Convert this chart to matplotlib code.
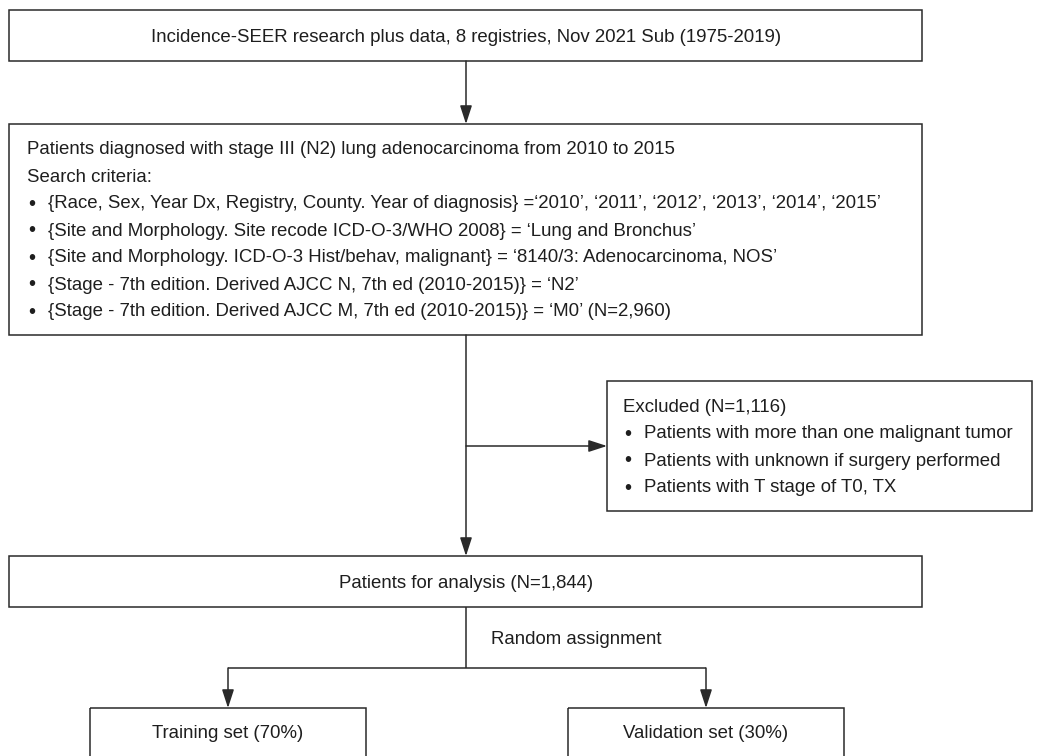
import matplotlib
matplotlib.use("Agg")
import matplotlib.pyplot as plt
from matplotlib.patches import Rectangle, FancyArrowPatch

plt.rcParams['font.family'] = ['Liberation Sans', 'DejaVu Sans']

# ---- text content ----
source_text = "Incidence-SEER research plus data, 8 registries, Nov 2021 Sub (1975-2019)"
cohort_header = ["Patients diagnosed with stage III (N2) lung adenocarcinoma from 2010 to 2015",
                 "Search criteria:"]
cohort_bullets = [
    "{Race, Sex, Year Dx, Registry, County. Year of diagnosis} =\u20182010\u2019, \u20182011\u2019, \u20182012\u2019, \u20182013\u2019, \u20182014\u2019, \u20182015\u2019",
    "{Site and Morphology. Site recode ICD-O-3/WHO 2008} = \u2018Lung and Bronchus\u2019",
    "{Site and Morphology. ICD-O-3 Hist/behav, malignant} = \u20188140/3: Adenocarcinoma, NOS\u2019",
    "{Stage - 7th edition. Derived AJCC N, 7th ed (2010-2015)} = \u2018N2\u2019",
    "{Stage - 7th edition. Derived AJCC M, 7th ed (2010-2015)} = \u2018M0\u2019 (N=2,960)",
]
excluded_header = "Excluded (N=1,116)"
excluded_bullets = [
    "Patients with more than one malignant tumor",
    "Patients with unknown if surgery performed",
    "Patients with T stage of T0, TX",
]
analysis_text = "Patients for analysis (N=1,844)"
split_label = "Random assignment"
split_sets = ["Training set (70%)", "Validation set (30%)"]

# ---- figure ----
W, H = 1040, 756
fig = plt.figure(figsize=(W / 100, H / 100), dpi=100)
ax = fig.add_axes([0, 0, 1, 1])
ax.set_xlim(0, W)
ax.set_ylim(H, 0)
ax.axis('off')

EC = '#2a2a2a'
TC = '#1e1e1e'
LW = 1.1
FS = 13.4


def box(x0, y0, x1, y1):
    ax.add_patch(Rectangle((x0, y0), x1 - x0, y1 - y0, fill=False,
                           edgecolor=EC, linewidth=LW))


def line(xs, ys):
    ax.plot(xs, ys, color=EC, linewidth=LW, solid_capstyle='butt')


def arrow(p0, p1):
    ax.add_patch(FancyArrowPatch(p0, p1, arrowstyle='-|>,head_length=0.8,head_width=0.26',
                                 mutation_scale=14, color=EC, linewidth=LW,
                                 shrinkA=0, shrinkB=0))


def txt(x, y, s, ha='left'):
    ax.text(x, y, s, ha=ha, va='center', fontsize=FS, color=TC)


def bullet_lines(x, y0, step, header, bullets):
    y = y0
    for h in header:
        txt(x, y, h)
        y += step
    for b in bullets:
        ax.text(x + 1, y, "\u2022", ha='left', va='center', fontsize=FS * 1.1, color=TC)
        txt(x + 21, y, b)
        y += step


CX = 466

# box 1
box(9, 10, 922, 61)
txt(CX, 37, source_text, ha='center')
arrow((CX, 61), (CX, 124))

# box 2
box(9, 124, 922, 335)
bullet_lines(27, 150, 27, cohort_header, cohort_bullets)

# down to analysis box, with exclusion branch
arrow((CX, 335), (CX, 556))
arrow((CX, 446), (607, 446))

# excluded box
box(607, 381, 1032, 511)
bullet_lines(623, 407, 27, [excluded_header], excluded_bullets)

# analysis box
box(9, 556, 922, 607)
txt(CX, 583, analysis_text, ha='center')

# random split
line([CX, CX], [607, 668])
txt(491, 640, split_label)
TRX, VAX = 228, 706
line([TRX, VAX], [668, 668])
arrow((TRX, 668), (TRX, 708))
arrow((VAX, 668), (VAX, 708))

# bottom boxes (cut off at bottom edge in the original)
box(90, 708, 366, 790)
box(568, 708, 844, 790)
txt(TRX, 733, split_sets[0], ha='center')
txt(VAX, 733, split_sets[1], ha='center')

fig.savefig('out.png', dpi=100)
